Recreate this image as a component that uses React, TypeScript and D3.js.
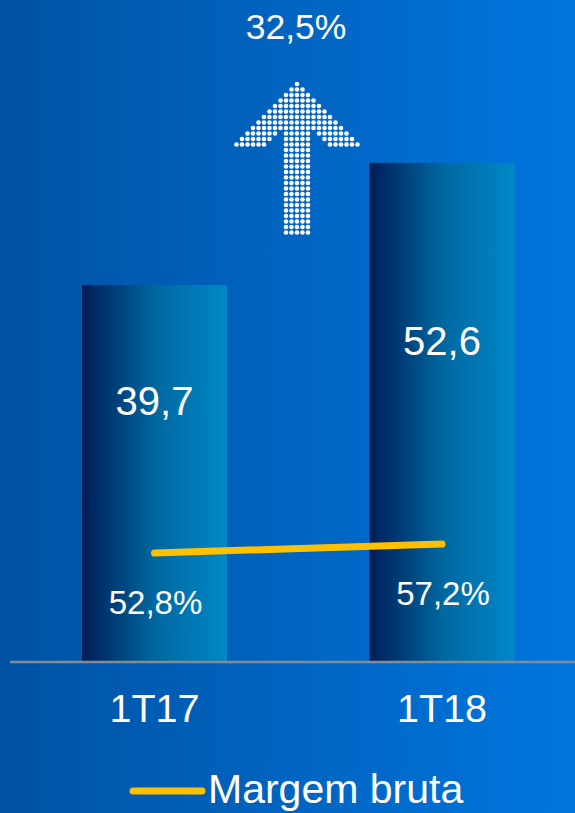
import React from "react";
import * as d3 from "d3";

const categories = ["1T17", "1T18"];
const revenue = [39.7, 52.6];
const revenueLabels = ["39,7", "52,6"];
const margin = [52.8, 57.2];
const marginLabels = ["52,8%", "57,2%"];
const growthLabel = "32,5%";
const legendLabel = "Margem bruta";

const W = 575;
const H = 813;
const FONT = "'Liberation Sans', Arial, sans-serif";

// arrow outline used to place the dot pattern (decoration)
const arrowPoly: [number, number][] = [
  [297, 82], [360, 146], [327, 146], [310.5, 129], [310.5, 237],
  [283.5, 237], [283.5, 129], [267, 146], [234, 146],
];

export default function App() {
  const x = d3.scalePoint<string>().domain(categories).range([154.5, 442]);
  const y = d3.scaleLinear().domain([0, 70]).range([661, -2]);
  const y2 = d3.scaleLinear().domain([0, 100]).range([661, 456.5]);
  const bw = 145;
  const cx = (c: string) => x(c) as number;

  const line = d3.line<number>()
    .x((_, i) => cx(categories[i]))
    .y((d) => y2(d));

  const dots: [number, number][] = [];
  const step = 5.5;
  for (let yy = 84; yy <= 237; yy += step) {
    for (let xx = 297 - step * 12; xx <= 297 + step * 12; xx += step) {
      if (d3.polygonContains(arrowPoly, [xx, yy])) dots.push([xx, yy]);
    }
  }

  const valueOffsets = [130, 192];

  return (
    <svg width={W} height={H} style={{ position: "absolute", left: 0, top: 0 }}>
      <defs>
        <linearGradient id="bg" x1="0" x2="1" y1="0" y2="0">
          <stop offset="0" stopColor="#0052a3" />
          <stop offset="1" stopColor="#0076de" />
        </linearGradient>
        <linearGradient id="bar" x1="0" x2="1" y1="0" y2="0">
          <stop offset="0" stopColor="#001d58" />
          <stop offset="0.5" stopColor="#00679f" />
          <stop offset="1" stopColor="#0088c8" />
        </linearGradient>
      </defs>
      <rect x={0} y={0} width={W} height={H} fill="url(#bg)" />

      {dots.map((d, i) => (
        <circle key={i} cx={d[0]} cy={d[1]} r={2.3} fill="#ffffff" />
      ))}

      <text x={296} y={39} textAnchor="middle" fill="#fff" fontFamily={FONT} fontSize={35.5}>{growthLabel}</text>

      {categories.map((c, i) => (
        <g key={c}>
          <rect x={cx(c) - bw / 2} y={y(revenue[i])} width={bw} height={y(0) - y(revenue[i])} fill="url(#bar)" />
          <text x={cx(c)} y={y(revenue[i]) + valueOffsets[i]} textAnchor="middle" fill="#fff" fontFamily={FONT} fontSize={40}>{revenueLabels[i]}</text>
          <text x={cx(c) + 1} y={y2(margin[i]) + 61} textAnchor="middle" fill="#fff" fontFamily={FONT} fontSize={33}>{marginLabels[i]}</text>
          <text x={cx(c)} y={722} textAnchor="middle" fill="#fff" fontFamily={FONT} fontSize={39.5}>{c}</text>
        </g>
      ))}

      <line x1={10} x2={575} y1={662} y2={662} stroke="#8a8a8a" strokeWidth={2.5} />

      <path d={line(margin) || ""} fill="none" stroke="#ffc000" strokeWidth={7} strokeLinecap="round" />

      <line x1={133} x2={202} y1={791} y2={791} stroke="#ffc000" strokeWidth={7} strokeLinecap="round" />
      <text x={208} y={803} fill="#fff" fontFamily={FONT} fontSize={41}>{legendLabel}</text>
    </svg>
  );
}
